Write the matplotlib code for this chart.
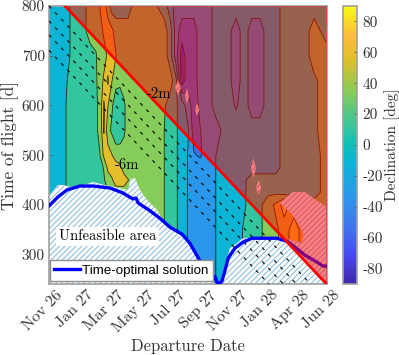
import numpy as np
import matplotlib
matplotlib.use("Agg")
import matplotlib.pyplot as plt
from matplotlib.colors import LinearSegmentedColormap
from matplotlib.cm import ScalarMappable
from matplotlib.transforms import ScaledTranslation

plt.rcParams['font.family'] = 'cmr10'
plt.rcParams['axes.unicode_minus'] = False
plt.rcParams['hatch.linewidth'] = 0.8

date_labels = ["Nov 26", "Jan 27", "Mar 27", "May 27", "Jul 27", "Sep 27", "Nov 27", "Jan 28", "Apr 28", "Jun 28"]
tof_ticks = [300, 400, 500, 600, 700, 800]
dec_ticks = [-80, -60, -40, -20, 0, 20, 40, 60, 80]

# departure positions of the grid, in tick units
dep = [0.00, 0.29, 0.55, 0.81, 1.07, 1.33, 1.52, 1.65, 1.78, 1.91, 2.04, 2.17, 2.30, 2.43,
       2.56, 2.82, 3.15, 3.47, 3.73, 3.93, 4.12, 4.31, 4.51, 4.70, 4.90, 5.16, 5.42, 5.74,
       6.07, 6.33, 6.58, 6.84, 7.10, 7.36, 7.62, 7.95, 8.27, 8.60, 9.00]
tof = [241, 350, 400, 425, 450, 475, 500, 550, 600, 650, 700, 750, 800]

# declination, one list per time of flight
dec_241 = [-11, -11, 0, 11, 11, 11, 11, 11, 11, 20, 34, 34, 34, 34, 34, 34, 34, 34, 23, 11, 3, -11, -24, -34, -34, -34, -22, -11, -11, 3, 11, 18, 34, 40, 56, 79, 56, 56, 56]
dec_350 = [-11, -11, 0, 11, 11, 11, 11, 11, 11, 20, 34, 34, 34, 34, 34, 34, 34, 34, 23, 11, 3, -11, -24, -34, -34, -34, -22, -11, -11, 3, 11, 18, 34, 40, 56, 79, 56, 56, 56]
dec_400 = [-11, -11, 0, 11, 11, 11, 11, 11, 11, 20, 34, 34, 34, 34, 34, 34, 34, 34, 23, 11, 3, -11, -24, -34, -34, -34, -22, -11, -11, -3, 11, 18, 34, 50, 79, 56, 34, 34, 34]
dec_425 = [-11, -11, 0, 11, 11, 11, 11, 11, 11, 20, 34, 34, 34, 34, 34, 34, 34, 34, 23, 11, 3, -11, -24, -34, -34, -34, -22, -11, -11, -3, 11, 11, 18, 18, 11, 11, 11, 11, 34]
dec_450 = [-11, -11, 0, 11, 11, 11, 11, 11, 20, 34, 42, 56, 56, 56, 46, 34, 34, 34, 23, 11, 3, -11, -24, -34, -34, -34, -22, -11, -11, -4, 11, 11, 11, 11, 11, 11, 11, 11, 34]
dec_475 = [-11, -11, 0, 11, 11, 11, 11, 14, 24, 50, 56, 56, 50, 34, 34, 34, 34, 34, 23, 11, 3, -11, -24, -34, -34, -34, -22, -11, -11, -8, -11, -11, -11, -11, 11, 11, 11, 11, 34]
dec_500 = [-11, -11, 0, 11, 11, 11, 11, 22, 50, 56, 46, 34, 34, 34, 34, 34, 34, 34, 23, 11, 3, -11, -24, -43, -48, -34, -22, -11, -11, -11, -11, -11, -11, -11, 11, 11, 11, 11, 34]
dec_550 = [-11, -11, 0, 11, 11, 11, 20, 26, 70, 30, 18, 8, 8, 18, 34, 34, 34, 34, 23, 11, 3, -11, -20, -56, -46, -34, -34, -11, -11, -11, -11, -11, -11, -11, 11, 11, 11, 18, 34]
dec_600 = [-11, -11, 0, 11, 11, 11, 20, 26, 72, 46, 26, 8, 8, 18, 34, 34, 34, 34, 26, 11, 3, -11, -34, -56, -40, -34, -11, -11, -25, -11, -34, -34, -11, -11, 11, 11, 11, 18, 34]
dec_650 = [-11, -11, -2, 11, 11, 11, 20, 30, 50, 72, 46, 30, 28, 34, 34, 34, 34, 34, 34, 34, 5, -79, -56, -56, -34, -34, -11, -11, -34, -11, -34, -34, -11, -11, 11, 11, 11, 18, 34]
dec_700 = [-11, -11, -11, 11, 11, 11, 20, 34, 34, 50, 60, 46, 34, 34, 34, 34, 34, 34, 34, 11, -34, -79, -56, -56, -34, -34, -11, -11, -34, -11, -34, -34, -11, -11, 11, 11, 11, 34, 34]
dec_750 = [-11, -11, -11, 11, 11, 34, 34, 34, 50, 56, 50, 34, 34, 34, 34, 34, 34, 34, 34, 11, -34, -56, -56, -56, -34, -34, -11, -11, -34, -11, -34, -34, -11, -11, 11, 11, 11, 34, 11]
dec_800 = [-11, -11, -11, 11, 11, 34, 34, 46, 56, 34, 11, 11, 11, 11, 11, 34, 34, 24, 11, -11, -34, -34, -34, -34, -34, -34, -11, -11, -11, -11, -11, -11, -11, -11, 11, 11, 11, 11, 11]

# edge of the unfeasible areas
floor_x = [0, 0.15, 0.29, 0.5, 0.68, 1.0, 1.43, 1.8, 2.14, 2.4, 2.56, 2.6, 2.63, 2.79, 2.88, 2.95, 3.18, 3.5, 3.7, 3.83, 4.25, 4.51, 4.8, 4.9, 5.1, 5.32, 5.35]
floor_y = [418, 430, 440, 440, 436, 438, 446, 440, 436, 432, 430, 440, 452, 454, 440, 430, 410, 390, 369, 359, 341, 323, 295, 287, 270, 253, 241]
corner_x = [5.55, 5.61, 5.77, 5.87, 6.1, 6.29, 6.68, 7.65, 8.21, 8.24, 7.91, 7.49, 7.91, 8.3, 8.56, 9, 9]
corner_y = [241, 259, 293, 313, 323, 333, 335, 333, 323, 345, 379, 404, 426, 426, 414, 396, 241]
hole_x = [[4.18, 4.28, 4.18, 4.09], [4.47, 4.54, 4.47, 4.41], [4.8, 4.87, 4.8, 4.74], [6.63, 6.71, 6.63, 6.55], [6.8, 6.88, 6.8, 6.71]]
hole_y = [[651, 636, 621, 636], [635, 619, 603, 619], [605, 592, 579, 592], [494, 474, 454, 474], [450, 435, 420, 435]]

# time-optimal solution
opt_x = [0, 0.29, 0.58, 1.0, 1.43, 1.98, 2.4, 2.72, 2.82, 2.89, 3.28, 3.6, 3.93, 4.32, 4.57, 4.9, 5.0, 5.2, 5.32, 5.38,
         5.45, 5.51, 5.61, 5.71, 5.81, 6.03, 6.29, 6.58, 6.94, 7.39, 7.72, 7.98, 8.3, 8.69, 8.89, 9]
opt_y = [398, 416, 430, 438, 438, 434, 424, 412, 414, 404, 388, 373, 355, 341, 323, 287, 270, 255, 250, 256,
         245, 241, 247, 269, 293, 313, 325, 333, 333, 333, 327, 315, 299, 285, 277, 277]

# constant arrival lines
red_x = [0.52, 9]
red_y = [800, 241]
arrival_y0 = [800, 770, 742, 711]

parula = LinearSegmentedColormap.from_list("parula_like", [
    (0.00, "#3e26a8"), (0.10, "#4748f0"), (0.19, "#4070f0"), (0.31, "#2c96eb"), (0.44, "#0cb5d5"),
    (0.50, "#10bfb8"), (0.56, "#30c5a0"), (0.69, "#85cc5a"), (0.81, "#e2bf2a"), (0.90, "#fdbd3c"),
    (1.00, "#f9fb15")])
levels = np.linspace(-90, 90, 9)
text_col = "#333333"
hatch_col = "#8fbfe0"

fig = plt.figure(figsize=(3.99, 3.55), dpi=100)
ax = fig.add_axes([49 / 399, 1 - 284 / 355, 277.5 / 399, 278 / 355])

dec = np.array([dec_241, dec_350, dec_400, dec_425, dec_450, dec_475, dec_500, dec_550, dec_600, dec_650, dec_700, dec_750, dec_800], dtype=float)
ax.contourf(dep, tof, dec, levels=levels, cmap=parula, vmin=-90, vmax=90, zorder=1)
ax.contour(dep, tof, dec, levels=levels, colors="black", linewidths=0.6, alpha=0.8,
           negative_linestyles="solid", zorder=1.5)

ax.fill_between(floor_x, 241, floor_y, facecolor="white", edgecolor=hatch_col, hatch="//////", linewidth=0, zorder=2)
ax.fill(corner_x, corner_y, facecolor="white", edgecolor=hatch_col, hatch="//////", linewidth=0, zorder=2)
for hx, hy in zip(hole_x, hole_y):
    ax.fill(hx, hy, facecolor="white", edgecolor=hatch_col, hatch="//////", linewidth=0, zorder=2)

slope = (red_y[0] - red_y[1]) / (red_x[1] - red_x[0])
for y0 in arrival_y0:
    ax.plot([0, 9], [y0, y0 - slope * 9], color="black", lw=0.8, dashes=(3, 5), zorder=3)

opt_line, = ax.plot(opt_x, opt_y, color="#0000ff", lw=2.4, zorder=3.5, label="Time-optimal solution")

ax.fill([red_x[0], 9, 9], [800, 800, 241], color="red", alpha=0.5, linewidth=0, zorder=4)
ax.plot(red_x, red_y, color="red", lw=2, zorder=5)

ax.text(3.18, 623, "-2m", fontsize=10.5, color="black", va="center", zorder=6)
ax.text(2.14, 480, "-6m", fontsize=10.5, color="black", va="center", zorder=6)
ax.text(0.32, 337, "Unfeasible area", fontsize=10.5, color="black", va="center", zorder=6,
        bbox=dict(facecolor="white", edgecolor="none", pad=2))

ax.set_xlim(0, 9)
ax.set_ylim(241, 800)
ax.set_xticks(range(len(date_labels)))
ax.set_xticklabels(date_labels, rotation=45, ha="right", rotation_mode="anchor", fontsize=11.5, color=text_col)
ax.set_yticks(tof_ticks)
ax.set_yticklabels([str(t) for t in tof_ticks], fontsize=11, color=text_col)
ax.tick_params(direction="in", length=2.5, width=0.6, color="#555555", pad=3)
shift = ScaledTranslation(6 / 100, 0, fig.dpi_scale_trans)
for lab in ax.get_xticklabels():
    lab.set_transform(lab.get_transform() + shift)
ax.set_xlabel("Departure Date", fontsize=12, color=text_col, va="center")
ax.xaxis.set_label_coords(0.5, -0.223)
ax.set_ylabel("Time of flight [d]", fontsize=12.4, color=text_col, va="center")
ax.yaxis.set_label_coords(-0.14, 0.5)
for s in ax.spines.values():
    s.set_color("#a0a0a0")
    s.set_linewidth(1.2)

leg = ax.legend(handles=[opt_line], loc="lower left", bbox_to_anchor=(0.005, 0.012), borderaxespad=0,
                prop={"family": "Liberation Sans", "size": 9.6}, fancybox=False, framealpha=1,
                edgecolor="#909090", handlelength=1.9, handletextpad=0.2, borderpad=0.3)
leg.set_zorder(7)

cax = fig.add_axes([343 / 399, 1 - 284 / 355, 14 / 399, 278 / 355])
sm = ScalarMappable(cmap=parula, norm=plt.Normalize(-90, 90))
cb = fig.colorbar(sm, cax=cax)
cb.set_ticks(dec_ticks)
cb.set_ticklabels([str(t) for t in dec_ticks], fontsize=11, color=text_col)
cb.ax.tick_params(direction="in", length=2.5, width=0.6, color="#555555", pad=4)
cb.set_label("Declination [deg]", fontsize=11, color=text_col, labelpad=1)
cb.outline.set_edgecolor("#a0a0a0")
cb.outline.set_linewidth(1.2)

fig.savefig("out.png", dpi=100)
